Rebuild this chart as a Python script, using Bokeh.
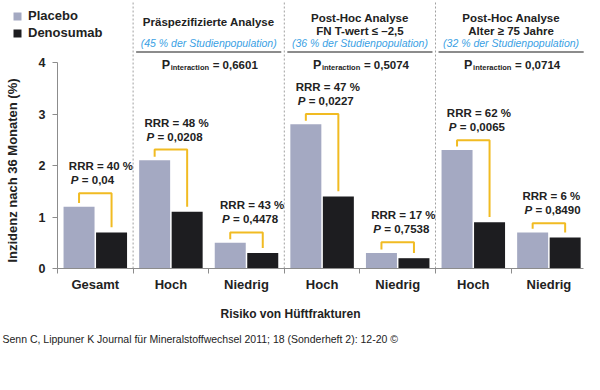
import math
from bokeh.plotting import figure
from bokeh.models import (ColumnDataSource, Label, Legend, LegendItem,
                          FixedTicker, Range1d)
from bokeh.core.properties import value
from bokeh.embed import file_html
from bokeh.resources import INLINE

# ---------------- data ----------------
categories = ["Gesamt", "Hoch", "Niedrig", "Hoch", "Niedrig", "Hoch", "Niedrig"]
placebo = [1.2, 2.1, 0.5, 2.8, 0.3, 2.3, 0.7]
denosumab = [0.7, 1.1, 0.3, 1.4, 0.2, 0.9, 0.6]
rrr = ["40", "48", "43", "47", "17", "62", "6"]
p_values = ["0,04", "0,0208", "0,4478", "0,0227", "0,7538", "0,0065", "0,8490"]
bracket_top = [1.46, 2.31, 0.70, 3.0, 0.51, 2.49, 0.88]
group_titles = [["Präspezifizierte Analyse"],
                ["Post-Hoc Analyse", "FN T-wert ≤ –2,5"],
                ["Post-Hoc Analyse", "Alter ≥ 75 Jahre"]]
group_share = ["45", "36", "32"]
p_interaction = ["0,6601", "0,5074", "0,0714"]
group_members = [[1, 2], [3, 4], [5, 6]]
y_ticks = [0, 1, 2, 3, 4]
legend_labels = ["Placebo", "Denosumab"]
x_title = "Risiko von Hüftfrakturen"
y_title = "Inzidenz nach 36 Monaten (%)"
footer = "Senn C, Lippuner K Journal für Mineralstoffwechsel 2011; 18 (Sonderheft 2): 12-20 ©"

# ---------------- styling ----------------
FONT = "Liberation Sans"
C_PLA = "#a4a9c2"
C_DEN = "#1d1d20"
C_BR = "#f1bb22"
C_BLUE = "#3a9fe4"
C_GRAY = "#8c8c8c"
C_TXT = "#222222"

W, H = 584, 374
AX = 57               # pixel column of the y axis
XS, YS = 75.6, 51.5   # pixels per data unit


def X(px):   # pixel column -> data x (category i sits at x = i)
    return -0.5 + (px - AX) / XS


def Y(py):   # pixel row -> data y
    return (268 - py) / YS


p = figure(width=W, height=H, output_backend="svg", toolbar_location=None,
           x_range=Range1d(X(0), X(W)), y_range=Range1d(Y(H), Y(0)),
           min_border=0, outline_line_color=None)
p.grid.visible = False
p.background_fill_color = "white"
p.border_fill_color = "white"

xc = list(range(len(categories)))
off, bw = 0.215, 0.41
xp = [x - off for x in xc]
xd = [x + off for x in xc]

src = ColumnDataSource(dict(xp=xp, xd=xd, pla=placebo, den=denosumab))
r_p = p.vbar(x="xp", top="pla", width=bw, source=src, fill_color=C_PLA, line_color=None)
r_d = p.vbar(x="xd", top="den", width=bw, source=src, fill_color=C_DEN, line_color=None)

# brackets
bxs, bys = [], []
for i in range(len(categories)):
    bxs.append([xp[i], xp[i], xd[i], xd[i]])
    bys.append([placebo[i] + 0.07, bracket_top[i], bracket_top[i], denosumab[i] + 0.1])
p.multi_line(xs=bxs, ys=bys, line_color=C_BR, line_width=2)

# RRR / P annotations
tx = [x - 0.43 + 0.08 for x in xc]
ann = ColumnDataSource(dict(
    x=tx,
    y_r=[t + 27 / YS for t in bracket_top],
    y_p=[t + 13 / YS for t in bracket_top],
    r=["RRR = %s %%" % v for v in rrr],
    pv=["= %s" % v for v in p_values],
    P=["P"] * len(rrr)))
common = dict(text_font=value(FONT), text_font_size="11.5px", text_font_style="bold",
              text_color=C_TXT, text_baseline="middle", text_align="left")
p.text(x="x", y="y_r", text="r", source=ann, **common)
p.text(x="x", y="y_p", text="P", source=ann, x_offset=2,
       **{**common, "text_font_style": "bold italic"})
p.text(x="x", y="y_p", text="pv", source=ann, x_offset=13, **common)

# group dividers (from the baseline to the top)
div_x = [0.5, 2.5, 4.5]
p.segment(x0=div_x, x1=div_x, y0=[0] * 3, y1=[Y(0)] * 3, line_color="#a0a0a0",
          line_width=1, line_dash="2 2")

# group headers
for g, mem in enumerate(group_members):
    gc = sum(mem) / len(mem)
    lines = group_titles[g]
    ys = [21] if len(lines) == 1 else [17, 30]
    for t, ry in zip(lines, ys):
        p.add_layout(Label(x=gc, y=Y(ry), text=t, text_align="center",
                           text_baseline="middle", text_font=FONT,
                           text_font_size="11.5px", text_font_style="bold",
                           text_color=C_TXT))
    p.add_layout(Label(x=gc, y=Y(42), text="(%s %% der Studienpopulation)" % group_share[g],
                       text_align="center", text_baseline="middle", text_font=FONT,
                       text_font_size="10.5px", text_font_style="italic",
                       text_color=C_BLUE))
    p.segment(x0=[mem[0] - 0.46], x1=[mem[-1] + 0.46], y0=[Y(51.5)], y1=[Y(51.5)],
              line_color=C_GRAY, line_width=2)
    p.add_layout(Label(x=gc, y=Y(64), x_offset=-47, text="P", text_align="left",
                       text_baseline="middle", text_font=FONT, text_font_size="12.5px",
                       text_font_style="bold", text_color=C_TXT))
    p.add_layout(Label(x=gc, y=Y(67), x_offset=-38, text="interaction", text_align="left",
                       text_baseline="middle", text_font=FONT, text_font_size="7.5px",
                       text_font_style="bold", text_color=C_TXT))
    p.add_layout(Label(x=gc, y=Y(64), x_offset=4, text="= " + p_interaction[g],
                       text_align="left", text_baseline="middle", text_font=FONT,
                       text_font_size="11.5px", text_font_style="bold",
                       text_color=C_TXT))

# axes (drawn at fixed positions inside the plot area)
ya = p.yaxis[0]
ya.fixed_location = -0.5
ya.ticker = FixedTicker(ticks=y_ticks)
ya.bounds = (0, 4)
ya.axis_line_color = C_GRAY
ya.major_tick_line_color = C_GRAY
ya.major_tick_out = 5
ya.major_tick_in = 0
ya.minor_tick_line_color = None
ya.major_label_standoff = 7
ya.major_label_text_font = FONT
ya.major_label_text_font_size = "12.5px"
ya.major_label_text_font_style = "bold"
ya.major_label_text_color = C_TXT

xa = p.xaxis[0]
xa.fixed_location = 0
xa.bounds = (-0.5, X(W - 1))
xa.ticker = FixedTicker(ticks=xc, minor_ticks=[x + 0.5 for x in [-1] + xc[:-1]])
xa.major_label_overrides = {i: c for i, c in enumerate(categories)}
xa.axis_line_color = C_GRAY
xa.major_tick_line_color = None
xa.major_tick_out = 0
xa.major_tick_in = 0
xa.minor_tick_line_color = C_GRAY
xa.minor_tick_out = 5
xa.minor_tick_in = 0
xa.major_label_standoff = 3
xa.major_label_text_font = FONT
xa.major_label_text_font_size = "13px"
xa.major_label_text_font_style = "bold"
xa.major_label_text_color = C_TXT

# axis titles and footer
p.add_layout(Label(x=X(290), y=Y(313), text=x_title, text_align="center",
                   text_baseline="middle", text_font=FONT, text_font_size="12px",
                   text_font_style="bold", text_color=C_TXT))
p.add_layout(Label(x=X(12), y=Y(170), text=y_title, angle=math.pi / 2,
                   text_align="center", text_baseline="middle", text_font=FONT,
                   text_font_size="13px", text_font_style="bold", text_color=C_TXT))
p.add_layout(Label(x=X(2), y=Y(338), text=footer, text_align="left",
                   text_baseline="middle", text_font=FONT, text_font_size="10.5px",
                   text_color=C_TXT))

# legend
legend = Legend(items=[LegendItem(label=legend_labels[0], renderers=[r_p]),
                       LegendItem(label=legend_labels[1], renderers=[r_d])],
                location=(12, H - 40), orientation="vertical",
                glyph_width=10, glyph_height=10, label_height=10, label_width=10,
                label_standoff=6, spacing=2, padding=0, margin=0,
                border_line_alpha=0, background_fill_alpha=0,
                label_text_font=FONT, label_text_font_size="13px",
                label_text_font_style="bold", label_text_color=C_TXT)
p.add_layout(legend, "center")

open("out.html", "w").write(file_html(p, INLINE))
